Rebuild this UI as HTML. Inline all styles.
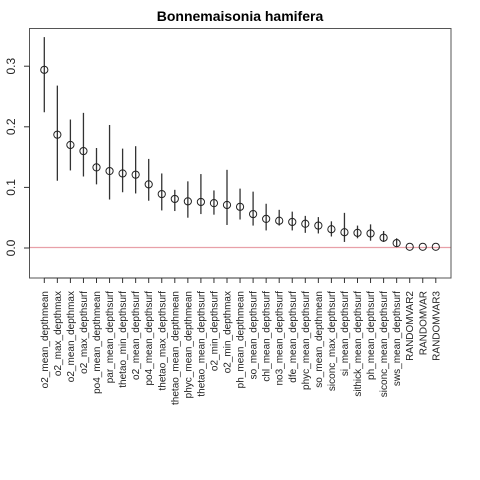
<!DOCTYPE html>
<html><head><meta charset="utf-8"><style>body{margin:0;background:#fff}svg{display:block;font-family:"Liberation Sans",sans-serif}</style></head>
<body>
<svg id="chart" width="480" height="480" xmlns="http://www.w3.org/2000/svg">
<text x="240" y="21" text-anchor="middle" font-size="14" font-weight="bold">Bonnemaisonia hamifera</text>
<rect x="29.5" y="28.5" width="421.5" height="249.5" fill="none" stroke="#555" stroke-width="1"/>
<g id="marks"></g>
</svg>
<script>
const categories=["o2_mean_depthmean","o2_max_depthmax","o2_mean_depthmax","o2_max_depthsurf","po4_mean_depthmean","par_mean_depthsurf","thetao_min_depthsurf","o2_mean_depthsurf","po4_mean_depthsurf","thetao_max_depthsurf","thetao_mean_depthmean","phyc_mean_depthmean","thetao_mean_depthsurf","o2_min_depthsurf","o2_min_depthmax","ph_mean_depthmean","so_mean_depthsurf","chl_mean_depthsurf","no3_mean_depthsurf","dfe_mean_depthsurf","phyc_mean_depthsurf","so_mean_depthmean","siconc_max_depthsurf","si_mean_depthsurf","sithick_mean_depthsurf","ph_mean_depthsurf","siconc_mean_depthsurf","sws_mean_depthsurf","RANDOMVAR2","RANDOMVAR","RANDOMVAR3"];
const means=[0.294,0.187,0.170,0.160,0.133,0.127,0.123,0.121,0.105,0.089,0.081,0.077,0.076,0.074,0.071,0.068,0.056,0.048,0.045,0.043,0.040,0.037,0.031,0.026,0.025,0.024,0.017,0.008,0.002,0.002,0.002];
const upper=[0.348,0.268,0.212,0.223,0.165,0.203,0.164,0.168,0.147,0.123,0.096,0.110,0.122,0.095,0.129,0.098,0.093,0.073,0.063,0.060,0.053,0.051,0.044,0.058,0.037,0.039,0.028,0.016,0.002,0.002,0.002];
const lower=[0.224,0.111,0.128,0.118,0.105,0.080,0.092,0.090,0.078,0.062,0.061,0.050,0.056,0.055,0.038,0.047,0.037,0.029,0.037,0.029,0.025,0.024,0.019,0.010,0.016,0.012,0.010,0.002,0.002,0.002,0.002];
const yTicks=[0.0,0.1,0.2,0.3];
const yTickLabels=["0.0","0.1","0.2","0.3"];
const refLine=[0];
const NS="http://www.w3.org/2000/svg";
const g=document.getElementById('marks');
function xS(i){return 44.3+i*13.05;}
function yS(v){return 248-v*606;}
function mk(t,a,p){const e=document.createElementNS(NS,t);for(const k in a)e.setAttribute(k,a[k]);(p||g).appendChild(e);return e;}
// y axis
let ya=mk('line',{x1:29.5,x2:29.5,y1:yS(yTicks[0]),y2:yS(yTicks[yTicks.length-1]),stroke:'#333'});


yTicks.forEach((v,k)=>{
  const t=mk('line',{x1:24,x2:29.5,y1:yS(v),y2:yS(v),stroke:'#333'});
  
  
  const l=mk('text',{x:0,y:0,transform:`translate(15,${yS(v)}) rotate(-90)`,'text-anchor':'middle','font-size':'12',fill:'#222'});
  l.textContent=yTickLabels[k];
  
  
});
// reference line
refLine.forEach(v=>{
  const r=mk('line',{x1:30,x2:450.5,y1:yS(v)-0.5,y2:yS(v)-0.5,stroke:'#e8a0a8','stroke-width':1.2});
  
  
});
// x axis
let xa=mk('line',{x1:xS(0),x2:xS(categories.length-1),y1:278,y2:278,stroke:'#333'});


categories.forEach((c,i)=>{
  const x=xS(i);
  const t=mk('line',{x1:x,x2:x,y1:278,y2:283,stroke:'#333'});
  
  
  const l=mk('text',{x:0,y:0,transform:`translate(${x+3.5},291) rotate(-90)`,'text-anchor':'end','font-size':'10',fill:'#222'});
  l.textContent=c;
  
  
  const b=mk('line',{x1:x,x2:x,y1:yS(upper[i]),y2:yS(lower[i]),stroke:'#333','stroke-width':1.3});
  
  
  const p=mk('circle',{cx:x,cy:yS(means[i]),r:3.6,fill:'none',stroke:'#222','stroke-width':1});
  
  
});
</script>
</body></html>
